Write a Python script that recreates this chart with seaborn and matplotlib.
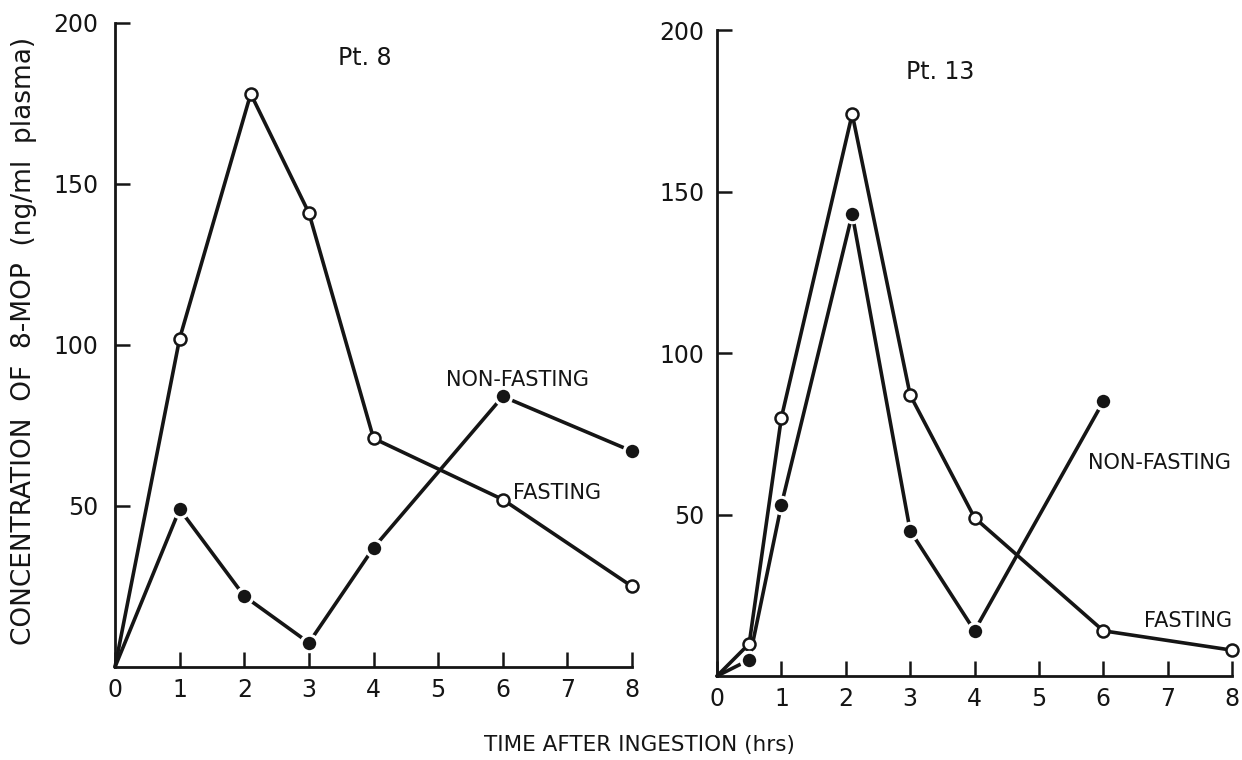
import matplotlib
matplotlib.use("Agg")
import matplotlib.pyplot as plt
import pandas as pd
import seaborn as sns

# Plasma 8-MOP concentration (ng/ml) against hours after ingestion
pt8_hours_fasting = [0, 1, 2.1, 3, 4, 6, 8]
pt8_fasting = [0, 102, 178, 141, 71, 52, 25]
pt8_hours_nonfasting = [0, 1, 2, 3, 4, 6, 8]
pt8_nonfasting = [0, 49, 22, 7.5, 37, 84, 67]

pt13_hours_fasting = [0, 0.5, 1, 2.1, 3, 4, 6, 8]
pt13_fasting = [0, 10, 80, 174, 87, 49, 14, 8]
pt13_hours_nonfasting = [0, 0.5, 1, 2.1, 3, 4, 6]
pt13_nonfasting = [0, 5, 53, 143, 45, 14, 85]

x_ticks = [0, 1, 2, 3, 4, 5, 6, 7, 8]
y_ticks = [50, 100, 150, 200]

sns.set_theme(style="ticks")
plt.rcParams["font.family"] = ["DejaVu Sans"]

INK = "#151515"

fig = plt.figure(figsize=(12.42, 7.6), dpi=100)
ax_l = fig.add_axes([0.0926, 0.1224, 0.4163, 0.8474])
ax_r = fig.add_axes([0.5773, 0.1105, 0.4147, 0.8500])


def draw_series(ax, hours, values, filled):
    df = pd.DataFrame({"hours": hours, "conc": values})
    sns.lineplot(data=df, x="hours", y="conc", ax=ax, color=INK,
                 linewidth=2.6, sort=False, clip_on=False, zorder=2)
    pts = df.iloc[1:]
    if filled:
        sns.scatterplot(data=pts, x="hours", y="conc", ax=ax, s=140,
                        color=INK, edgecolor="white", linewidth=2.2,
                        clip_on=False, zorder=3)
    else:
        sns.scatterplot(data=pts, x="hours", y="conc", ax=ax, s=75,
                        color="white", edgecolor=INK, linewidth=1.8,
                        clip_on=False, zorder=3)


def style_axes(ax, ypad):
    ax.set_xlim(0, 8)
    ax.set_ylim(0, 200)
    ax.set_xticks(x_ticks)
    ax.set_yticks(y_ticks)
    ax.set_xlabel("")
    ax.set_ylabel("")
    for side in ("top", "right"):
        ax.spines[side].set_visible(False)
    for side in ("left", "bottom"):
        ax.spines[side].set_linewidth(2.0)
        ax.spines[side].set_color(INK)
    ax.tick_params(axis="both", direction="in", length=11, width=1.8,
                   color=INK, labelsize=17, labelcolor=INK)
    ax.tick_params(axis="x", pad=8)
    ax.tick_params(axis="y", pad=ypad)
    ax.set_facecolor("white")


draw_series(ax_l, pt8_hours_fasting, pt8_fasting, filled=False)
draw_series(ax_l, pt8_hours_nonfasting, pt8_nonfasting, filled=True)
style_axes(ax_l, ypad=12)

draw_series(ax_r, pt13_hours_fasting, pt13_fasting, filled=False)
draw_series(ax_r, pt13_hours_nonfasting, pt13_nonfasting, filled=True)
style_axes(ax_r, ypad=9)

title_kw = dict(fontsize=17, color=INK, ha="center", va="center")
lab = dict(fontsize=15, color=INK, ha="center", va="center")
ax_l.text(3.87, 189, "Pt. 8", **title_kw)
ax_l.text(6.22, 89, "NON-FASTING", **lab)
ax_l.text(6.84, 54, "FASTING", **lab)

ax_r.text(3.46, 187, "Pt. 13", **title_kw)
ax_r.text(6.88, 66, "NON-FASTING", **lab)
ax_r.text(7.31, 17, "FASTING", **lab)

fig.text(0.515, 0.02, "TIME AFTER INGESTION (hrs)", fontsize=15.5,
         color=INK, ha="center", va="center")
fig.text(0.0193, 0.551, "CONCENTRATION  OF  8-MOP  (ng/ml  plasma)",
         fontsize=19, color=INK, ha="center", va="center", rotation=90)

fig.savefig("out.png", dpi=100, facecolor="white")
